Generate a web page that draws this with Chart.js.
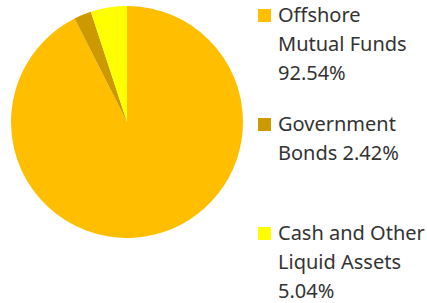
<!DOCTYPE html>
<html>
<head>
<meta charset="utf-8">
<script src="https://cdn.jsdelivr.net/npm/chart.js@4/dist/chart.umd.min.js"></script>
<style>
  html,body{margin:0;padding:0;background:#fff;}
  body{width:427px;height:303px;position:relative;overflow:hidden;font-family:"Noto Sans",sans-serif;}
  #pieBox{position:absolute;left:11px;top:6px;width:232px;height:232px;}
  .leg{position:absolute;left:258px;color:#333;font-size:20px;line-height:29px;white-space:nowrap;}
  .leg .sw{position:absolute;left:0;top:9px;width:13px;height:13px;}
  .leg .txt{margin-left:20px;}
</style>
</head>
<body>
<div id="pieBox"><canvas id="pie"></canvas></div>
<div id="legend"></div>
<script>
var labels = ['Offshore Mutual Funds', 'Government Bonds', 'Cash and Other Liquid Assets'];
var values = [92.54, 2.42, 5.04];
var colors = ['#FFBF00', '#CC9900', '#FFFF00'];
// legend lines as wrapped in the picture
var legendLines = [
  ['Offshore', 'Mutual Funds', '92.54%'],
  ['Government', 'Bonds 2.42%'],
  ['Cash and Other', 'Liquid Assets', '5.04%']
];
var legendTops = [0, 109, 218];

function buildLegend(){
  var box = document.getElementById('legend');
  for(var i=0;i<labels.length;i++){
    var el = document.createElement('div');
    el.className = 'leg';
    el.style.top = legendTops[i] + 'px';
    el.innerHTML = '<span class="sw" style="background:' + colors[i] + '"></span>' +
      '<div class="txt">' + legendLines[i].join('<br>') + '</div>';
    box.appendChild(el);
  }
}

function initChart(){
  var ctx = document.getElementById('pie').getContext('2d');
  new Chart(ctx, {
    type: 'pie',
    data: {
      labels: labels,
      datasets: [{
        data: values,
        backgroundColor: colors,
        borderWidth: 0,
        hoverOffset: 0
      }]
    },
    options: {
      responsive: true,
      maintainAspectRatio: false,
      animation: false,
      layout: { padding: 0 },
      plugins: { legend: { display: false }, tooltip: { enabled: false } }
    }
  });
}

buildLegend();
initChart();
</script>
</body>
</html>
